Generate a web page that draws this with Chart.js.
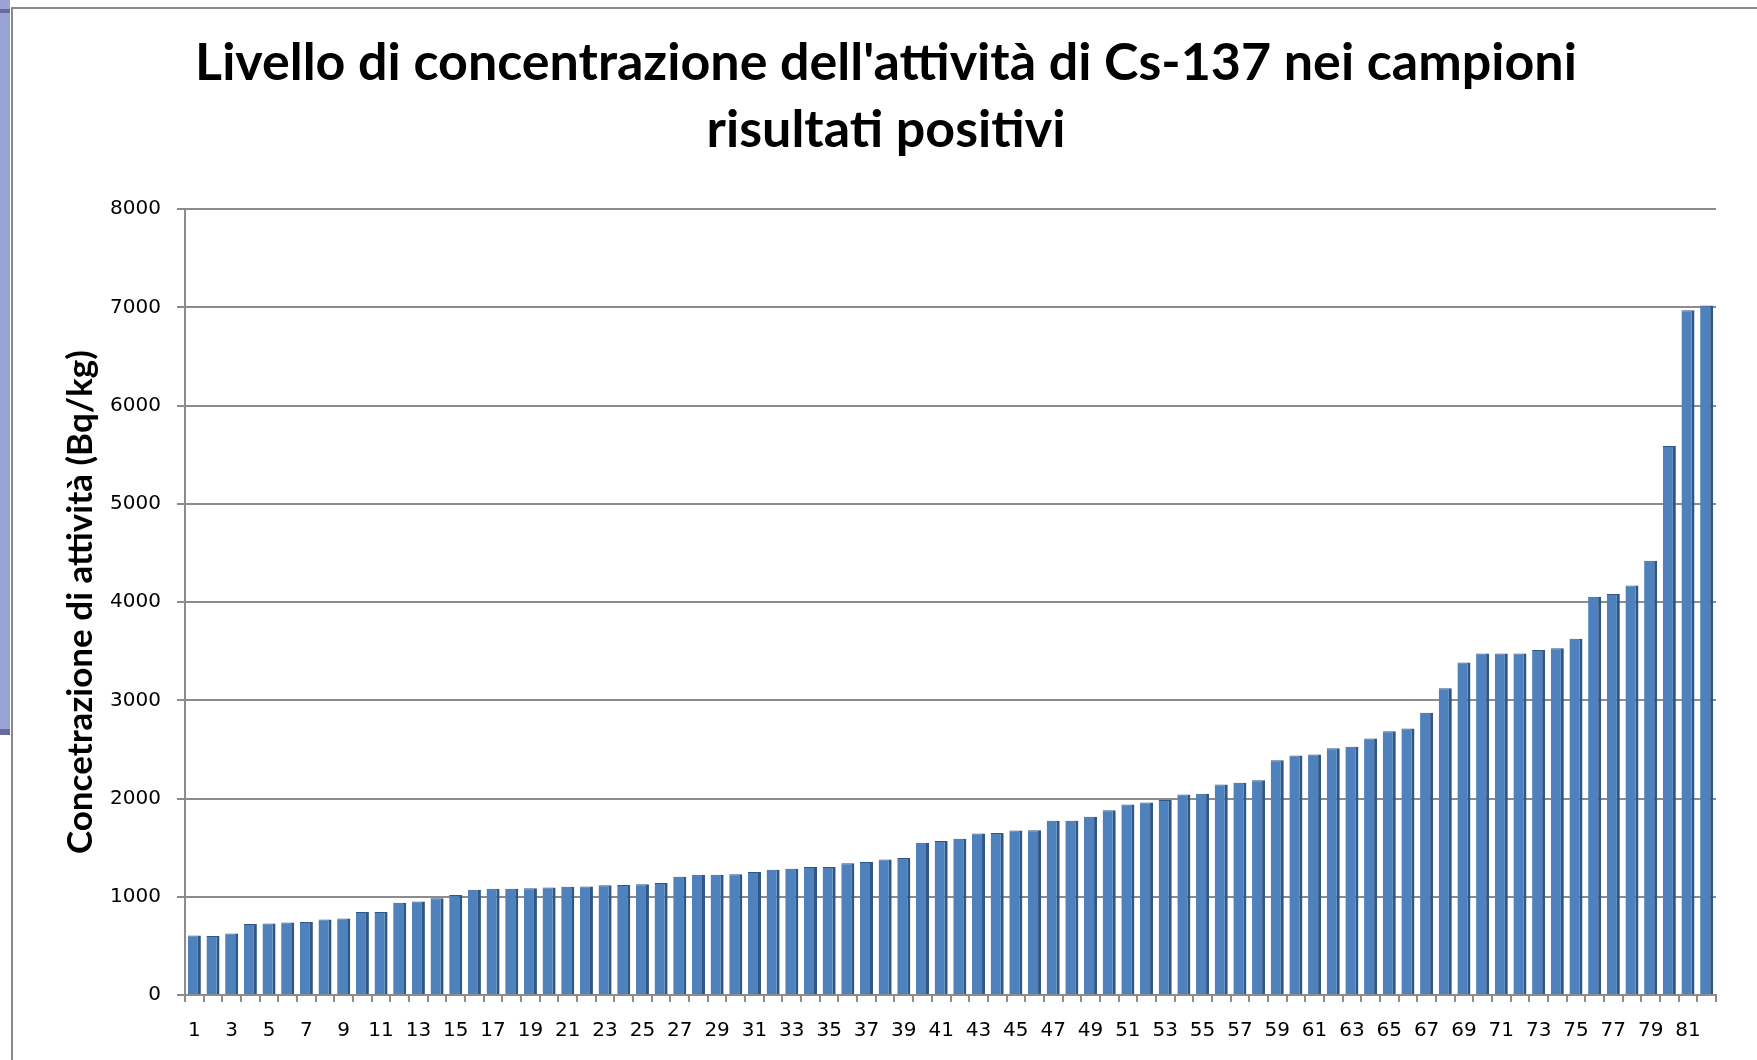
<!DOCTYPE html>
<html>
<head>
<meta charset="utf-8">
<script src="https://cdn.jsdelivr.net/npm/chart.js@4.4.0/dist/chart.umd.min.js"></script>
<style>
  html, body { margin: 0; padding: 0; background: #fff; }
  #wrap { position: relative; width: 1757px; height: 1060px; overflow: hidden; }
  #frame { position: absolute; left: 11px; top: 7px; right: 0; bottom: 0;
           border-left: 2px solid #8a8a8a; border-top: 2px solid #8a8a8a; }
  #strip { position: absolute; left: 0; top: 0; width: 10px; height: 734px; background: #9aa4d4; }
  #stripTop { position: absolute; left: 0; top: 9px; width: 10px; height: 4px; background: #6a6aa0; }
  #stripBot { position: absolute; left: 0; top: 729px; width: 10px; height: 6px; background: #6a6aa0; }
  canvas { position: absolute; left: 0; top: 0; }
</style>
</head>
<body>
<div id="wrap">
  <div id="strip"></div><div id="stripTop"></div><div id="stripBot"></div>
  <div id="frame"></div>
  <canvas id="chart1" width="1757" height="1060"></canvas>
</div>
<script>
/************* data ********* */
const campioni = ["1","2","3","4","5","6","7","8","9","10","11","12","13","14","15","16","17","18","19","20",
  "21","22","23","24","25","26","27","28","29","30","31","32","33","34","35","36","37","38","39","40",
  "41","42","43","44","45","46","47","48","49","50","51","52","53","54","55","56","57","58","59","60",
  "61","62","63","64","65","66","67","68","69","70","71","72","73","74","75","76","77","78","79","80",
  "81","82"];
const concentrazione = [605, 600, 625, 723, 727, 737, 743, 769, 779, 845,
  845, 940, 953, 986, 1019, 1072, 1082, 1082, 1088, 1095,
  1101, 1105, 1118, 1121, 1128, 1141, 1205, 1223, 1223, 1229,
  1252, 1276, 1286, 1302, 1302, 1342, 1355, 1379, 1395, 1551,
  1568, 1591, 1645, 1648, 1674, 1678, 1774, 1774, 1814, 1880,
  1940, 1960, 1985, 2040, 2050, 2142, 2161, 2185, 2390, 2437,
  2449, 2512, 2528, 2610, 2685, 2713, 2874, 3122, 3386, 3476,
  3476, 3476, 3512, 3531, 3626, 4055, 4083, 4169, 4420, 5590,
  6970, 7020];
const yTicks = [0, 1000, 2000, 3000, 4000, 5000, 6000, 7000, 8000];

const gridColor = '#8c8c8c';
const tickFont = { family: 'DejaVu Sans', size: 20 };

new Chart("chart1", {
    type: "bar",
    data: {
        labels: campioni,
        datasets: [{
            data: concentrazione,
            backgroundColor: '#4f81bd',
            borderColor: '#2f5785',
            borderWidth: { left: 0, right: 3, top: 1, bottom: 0 },
            borderSkipped: false,
            barPercentage: 0.7,
            categoryPercentage: 1
        }]
    },
    options: {
        responsive: false,
        animation: false,
        // left padding also shifts the title centre to the right, as in the original
        layout: { padding: { left: 56, right: 41, top: 0, bottom: 0 } },
        plugins: {
            legend: { display: false },
            tooltip: { enabled: false },
            title: {
                display: true,
                text: ["Livello di concentrazione dell'attività di Cs-137 nei campioni", "risultati positivi"],
                color: '#000',
                font: { family: 'Lato', size: 52, weight: 'bold', lineHeight: 1.29 },
                padding: { top: 30, bottom: 45 }
            }
        },
        scales: {
            x: {
                grid: { drawOnChartArea: false, drawTicks: true, tickLength: 7, color: gridColor, lineWidth: 2 },
                border: { color: gridColor, width: 2 },
                ticks: {
                    autoSkip: false,
                    maxRotation: 0,
                    padding: 17,
                    color: '#000',
                    font: tickFont,
                    callback: function (val, i) { return i % 2 === 0 ? this.getLabelForValue(val) : ''; }
                },
                afterFit: function (scale) { scale.height = 65; }
            },
            y: {
                min: 0,
                max: 8000,
                afterBuildTicks: function (scale) { scale.ticks = yTicks.map(v => ({ value: v })); },
                grid: { color: gridColor, lineWidth: 2, tickLength: 8 },
                border: { color: gridColor, width: 2 },
                ticks: {
                    color: '#000',
                    font: tickFont,
                    padding: 16,
                    callback: function (val) { return String(val); }
                },
                title: {
                    display: true,
                    text: 'Concetrazione di attività (Bq/kg)',
                    color: '#000',
                    font: { family: 'Lato', size: 35, weight: 'bold' },
                    padding: { top: 4, bottom: 0 }
                },
                afterFit: function (scale) { scale.width = 129; }
            }
        }
    }
});
</script>
</body>
</html>
